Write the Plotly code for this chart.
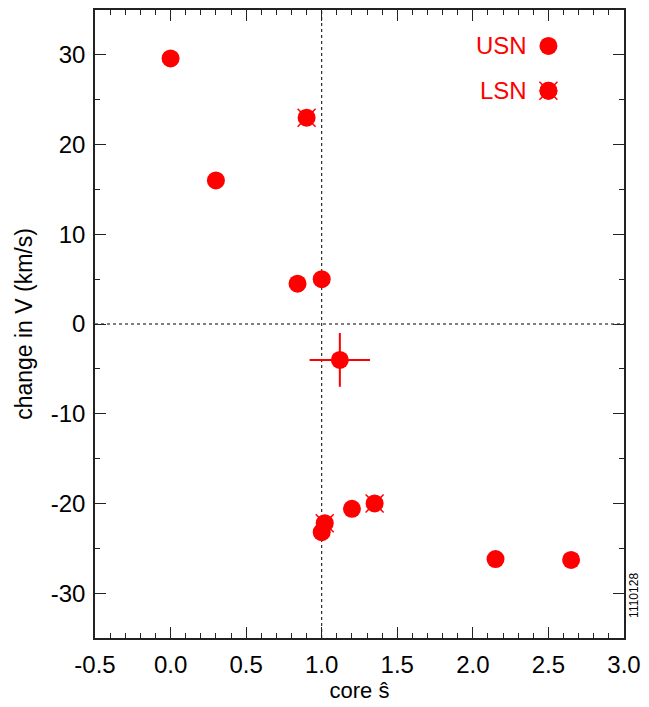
import plotly.graph_objects as go

# USN points
usn_x = [0.0, 0.3, 0.84, 1.0, 1.12, 1.0, 1.2, 2.15, 2.65]
usn_y = [29.6, 16.0, 4.5, 5.0, -4.0, -23.2, -20.6, -26.2, -26.3]
usn_xerr = [0, 0, 0, 0, 0.2, 0, 0, 0, 0]
usn_yerr = [0, 0, 0, 0, 3.0, 0, 0, 0, 0]

# LSN points
lsn_x = [0.9, 1.02, 1.35]
lsn_y = [23.0, -22.2, -20.0]

# tick labels (plain hyphen minus as in the original)
x_tickvals = [-0.5, 0.0, 0.5, 1.0, 1.5, 2.0, 2.5, 3.0]
x_ticktext = ["-0.5", "0.0", "0.5", "1.0", "1.5", "2.0", "2.5", "3.0"]
y_tickvals = [-30, -20, -10, 0, 10, 20, 30]
y_ticktext = ["-30", "-20", "-10", "0", "10", "20", "30"]

legend_names = ["USN", "LSN"]
legend_x = [2.5, 2.5]
legend_y = [31, 26]

RED = "#ff0000"
FONT = "Liberation Sans, Arial, sans-serif"

fig = go.Figure()

fig.add_trace(go.Scatter(
    x=usn_x, y=usn_y, mode="markers",
    marker=dict(size=18, color=RED, line=dict(width=0)),
    error_x=dict(type="data", array=usn_xerr, color=RED, thickness=2, width=0),
    error_y=dict(type="data", array=usn_yerr, color=RED, thickness=2, width=0),
    showlegend=False))

fig.add_trace(go.Scatter(
    x=lsn_x, y=lsn_y, mode="markers",
    marker=dict(size=18, symbol="x-thin", color=RED, line=dict(width=1.5, color=RED)),
    showlegend=False))
fig.add_trace(go.Scatter(
    x=lsn_x, y=lsn_y, mode="markers",
    marker=dict(size=18, color=RED, line=dict(width=0)),
    showlegend=False))

# legend keys
fig.add_trace(go.Scatter(
    x=legend_x, y=legend_y, mode="markers",
    marker=dict(size=18, color=RED, line=dict(width=0)),
    showlegend=False, hoverinfo="skip"))
fig.add_trace(go.Scatter(
    x=[legend_x[1]], y=[legend_y[1]], mode="markers",
    marker=dict(size=18, symbol="x-thin", color=RED, line=dict(width=1.5, color=RED)),
    showlegend=False, hoverinfo="skip"))
fig.add_trace(go.Scatter(
    x=[legend_x[1]], y=[legend_y[1]], mode="markers",
    marker=dict(size=18, color=RED, line=dict(width=0)),
    showlegend=False, hoverinfo="skip"))

for name, lx, ly in zip(legend_names, legend_x, legend_y):
    fig.add_annotation(x=lx - 0.13, y=ly, xref="x", yref="y", text=name,
                       showarrow=False, xanchor="right", yanchor="middle",
                       font=dict(family=FONT, size=24, color=RED))

fig.add_annotation(x=1.02, y=0.068, xref="paper", yref="paper", text="1110128",
                   showarrow=False, textangle=-90, xanchor="center", yanchor="middle",
                   font=dict(family=FONT, size=12, color="black"))

# dotted reference lines
fig.add_shape(type="line", xref="x", yref="paper", x0=1, x1=1, y0=0, y1=1,
              line=dict(color="black", width=1, dash="dot"), layer="below")
fig.add_shape(type="line", xref="paper", yref="y", x0=0, x1=1, y0=0, y1=0,
              line=dict(color="black", width=1, dash="dot"), layer="below")

axis_common = dict(
    showgrid=False, zeroline=False, showline=True, linecolor="#222222", linewidth=1.5,
    mirror="ticks", ticks="inside", ticklen=11, tickwidth=1.2, tickcolor="#222222",
    tickfont=dict(family=FONT, size=24, color="black"),
)

fig.update_xaxes(
    range=[-0.5, 3.0], tickmode="array", tickvals=x_tickvals, ticktext=x_ticktext,
    minor=dict(ticks="inside", ticklen=5, dtick=0.1, tick0=0, tickwidth=1.2, tickcolor="#222222"),
    title=dict(text="core ŝ", font=dict(family=FONT, size=22, color="black"), standoff=2),
    ticklabelstandoff=4,
    **axis_common)
fig.update_yaxes(
    range=[-35, 35], tickmode="array", tickvals=y_tickvals, ticktext=y_ticktext,
    minor=dict(ticks="inside", ticklen=5, dtick=5, tick0=0, tickwidth=1.2, tickcolor="#222222"),
    title=dict(text="change in V (km/s)", font=dict(family=FONT, size=23, color="black"), standoff=12),
    ticklabelstandoff=3,
    **axis_common)

fig.update_layout(
    width=649, height=707,
    margin=dict(l=95, r=21, t=8, b=69),
    plot_bgcolor="white", paper_bgcolor="white",
    font=dict(family=FONT),
)

fig.write_html("out.html")
